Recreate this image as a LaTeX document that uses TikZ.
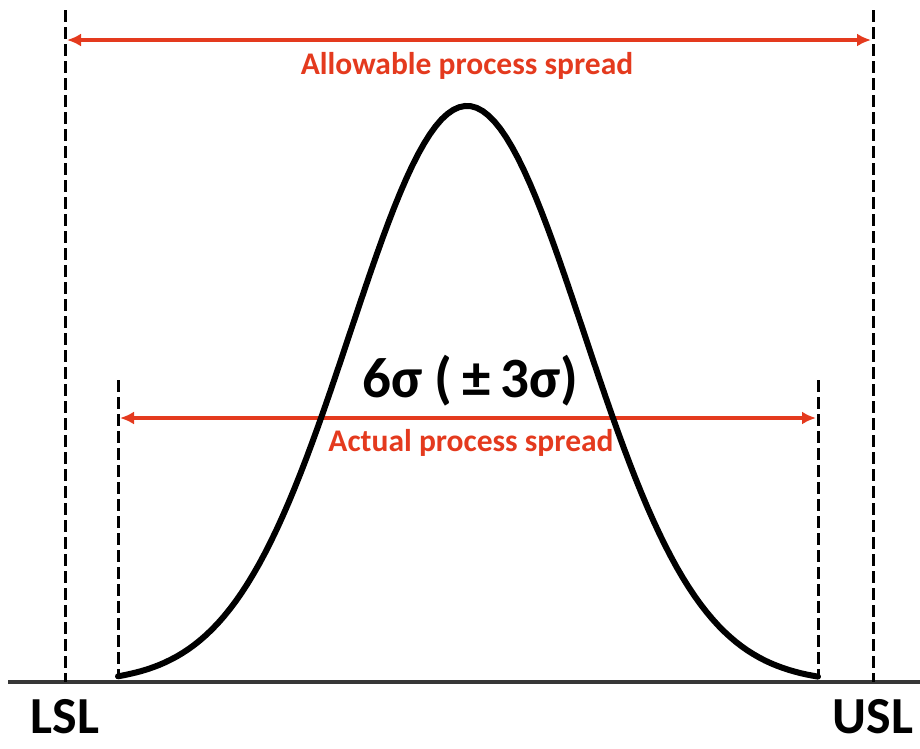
\documentclass[tikz,border=0pt]{standalone}
\usepackage{fontspec}
\setmainfont{Carlito}
\usetikzlibrary{arrows.meta,positioning}
\definecolor{ink}{RGB}{0,0,0}
\definecolor{rule}{RGB}{55,55,55}
\definecolor{spread}{RGB}{228,58,30}
\tikzset{
  limit/.style={dash pattern=on 12pt off 5pt, line width=3pt, color=ink},
  span/.style={{Latex[length=14pt,width=13pt]}-{Latex[length=14pt,width=13pt]}, line width=4pt, color=spread},
  ground/.style={line width=4pt, color=rule},
  bell/.style={line width=6pt, line cap=round, color=ink},
  lbl/.style={font=\fontsize{31.5}{34}\selectfont\bfseries, text=spread, inner sep=0pt},
  big/.style={font=\fontsize{57}{62}\selectfont\bfseries, inner sep=0pt},
  tag/.style={font=\fontsize{52}{56}\selectfont\bfseries, inner sep=0pt},
}
\begin{document}
\begin{tikzpicture}[x=1pt, y=-1pt]
  \useasboundingbox (0,0) rectangle (920,748);
  % limits and axis
  \coordinate (lsltop) at (65,10);  \coordinate (lslbot) at (65,682);
  \coordinate (usltop) at (873,10); \coordinate (uslbot) at (873,682);
  \coordinate (lotop) at (118,380); \coordinate (lobot) at (118,678);
  \coordinate (hitop) at (818,380); \coordinate (hibot) at (818,678);
  \coordinate (left) at (8,682);    \coordinate (right) at (920,682);
  \draw[ground] (left) -- (right);
  \draw[limit] (lsltop) -- (lslbot);
  \draw[limit] (usltop) -- (uslbot);
  \draw[limit] (lotop) -- (lobot);
  \draw[limit] (hitop) -- (hibot);
  % spreads
  \coordinate (allowL) at (67,40);  \coordinate (allowR) at (871,40);
  \coordinate (actL) at (120,418);  \coordinate (actR) at (816,418);
  \draw[span] (allowL) -- (allowR);
  \draw[span] (actL) -- (actR);
  \node[lbl] (allow) at (467,66) {Allowable process spread};
  \node[lbl] (actual) at (471,443) {Actual process spread};
  % the bell curve
  \draw[bell] plot[domain=118:818, samples=120] (\x, {683 - 577*exp(-((\x-467)/117)^2/2)});
  \node[big] (sigma) at (470,381) {6σ (\,±\,3σ)};
  \node[tag] (lsl) at (65,717) {LSL};
  \node[tag] (usl) at (873,717) {USL};
\end{tikzpicture}
\end{document}
